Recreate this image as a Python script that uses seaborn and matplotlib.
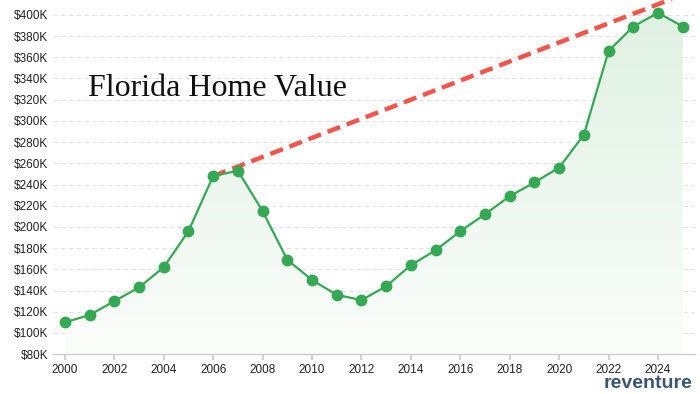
import numpy as np
import pandas as pd
import seaborn as sns
import matplotlib.pyplot as plt
from matplotlib.patches import Polygon
from matplotlib.colors import LinearSegmentedColormap

# ======================
# Data ($K)
# ======================
years = list(range(2000, 2026))
home_value = [110, 117, 130, 143, 162, 196, 248, 253, 215, 169, 150, 136, 131,
              144, 164, 178, 196, 212, 229, 242, 256, 287, 366, 389, 402, 389]
trend_years = [2006, 2026]
trend_values = [248, 428]

y_ticks = list(range(80, 401, 20))
x_ticks = list(range(2000, 2025, 2))

df = pd.DataFrame({"year": years, "value": home_value})

# ======================
# Style
# ======================
sns.set_theme(style="white")
plt.rcParams["font.family"] = ["Liberation Sans", "DejaVu Sans"]

GREEN = "#34a853"
RED = "#f4544a"

fig = plt.figure(figsize=(7, 3.94), dpi=100)
ax = fig.add_axes([0.075, 0.101, 0.918, 0.899])

# gradient fill under the line
xlim = (1999.5, 2025.5)
ylim = (80, 414)
grad = np.linspace(0.0, 1.0, 256).reshape(-1, 1)
cmap = LinearSegmentedColormap.from_list("fade", ["#fbfdfb", "#dff1e2"])
img = ax.imshow(grad, extent=[years[0], years[-1], ylim[0], max(home_value)],
                origin="lower", aspect="auto", cmap=cmap, vmin=0, vmax=1,
                zorder=1)
poly = Polygon(list(zip(years, home_value)) + [(years[-1], ylim[0]), (years[0], ylim[0])],
               closed=True, facecolor="none", edgecolor="none")
ax.add_patch(poly)
img.set_clip_path(poly)

# grid
for v in y_ticks[1:]:
    ax.axhline(v, color="#e3e3e3", lw=0.8, ls=(0, (4, 3)), zorder=0)

# trend line
ax.plot(trend_years, trend_values, color=RED, lw=3.2, ls=(0, (3, 1.6)),
        zorder=3, solid_capstyle="butt")

# main line
sns.lineplot(data=df, x="year", y="value", ax=ax, color=GREEN, lw=1.6,
             marker="o", markersize=8.5, markeredgewidth=0, zorder=4)

ax.set_xlim(*xlim)
ax.set_ylim(*ylim)
ax.set_xticks(x_ticks)
ax.set_yticks(y_ticks)
ax.set_yticklabels([f"${v}K" for v in y_ticks], fontsize=8.5, color="#222222")
ax.set_xticklabels([str(x) for x in x_ticks], fontsize=8.5, color="#222222")
ax.set_xlabel("")
ax.set_ylabel("")

for s in ["top", "right", "left"]:
    ax.spines[s].set_visible(False)
ax.spines["bottom"].set_color("#cccccc")
ax.spines["bottom"].set_linewidth(1)
ax.tick_params(axis="x", length=4, color="#cccccc", pad=3, bottom=True)
ax.tick_params(axis="y", length=0, pad=3)

ax.text(2000.95, 331, "Florida Home Value", fontsize=23, color="#111111",
        family=["Liberation Serif", "DejaVu Serif"], va="center", ha="left")

fig.text(0.862, 0.004, "reventure", fontsize=14, color="#3b5670",
         fontweight="semibold", ha="left", va="bottom")

plt.savefig("out.png", dpi=100)
plt.close()
